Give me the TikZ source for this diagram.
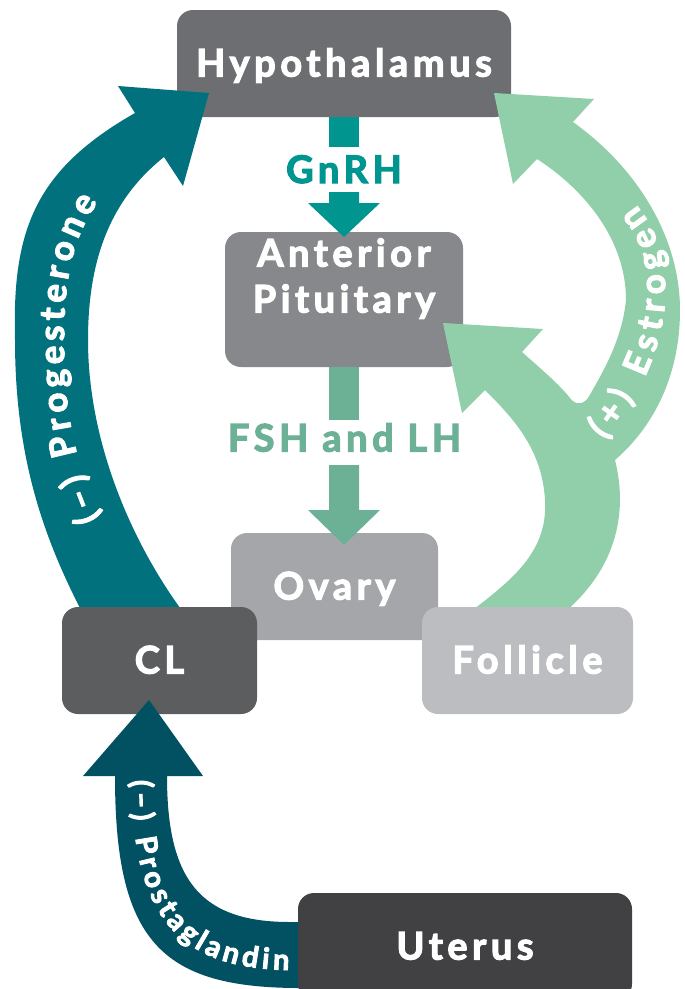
\documentclass[tikz,border=0pt]{standalone}
\usepackage{fontspec}
\newfontfamily\lbl{Lato}[LetterSpace=12, BoldFeatures={FakeBold=3}]
\newfontfamily\clbl{Lato}[LetterSpace=5, BoldFeatures={FakeBold=3}]
\usetikzlibrary{decorations.text}
\definecolor{hypc}{HTML}{6D6E71}
\definecolor{apc}{HTML}{87888B}
\definecolor{ovc}{HTML}{A5A6A9}
\definecolor{clc}{HTML}{5C5D5F}
\definecolor{folc}{HTML}{BCBDC0}
\definecolor{utc}{HTML}{414042}
\definecolor{gnrhc}{HTML}{00968F}
\definecolor{fshc}{HTML}{6CB096}
\definecolor{progc}{HTML}{00717D}
\definecolor{estc}{HTML}{91CFAA}
\definecolor{prostc}{HTML}{025163}
\newcommand\curvefont{\clbl\bfseries\fontsize{35}{35}\selectfont\color{white}}
\newcommand\curvefontsm{\clbl\bfseries\fontsize{29}{29}\selectfont\color{white}}
\begin{document}
\begin{tikzpicture}[x=1pt,y=-1pt,
  box/.style={rounded corners=16pt, text=white, inner sep=0pt, align=center,
    font=\lbl\bfseries\fontsize{38}{46}\selectfont, text height=26pt, text depth=0pt},
  lbltxt/.style={inner sep=0pt, font=\lbl\bfseries\fontsize{38}{46}\selectfont,
    text height=26pt, text depth=0pt},
  curvetext/.style={decorate, decoration={text along path, text align=fit to path,
    text={|\curvefont|#1}}},
  curvetextsm/.style={decorate, decoration={text along path, text align=fit to path,
    text={|\curvefontsm|#1}}}]
\useasboundingbox (0,0) rectangle (685,989);

% upper boxes
\node[box, fill=hypc, minimum width=334pt, minimum height=107pt] (hyp) at (344,63.5) {Hypothalamus};
\node[box, fill=apc, minimum width=238pt, minimum height=135pt] (ap) at (344,299.5) {Anterior\\Pituitary};
\node[box, fill=ovc, minimum width=207pt, minimum height=107pt] (ov) at (334.5,586.5) {Ovary};

% GnRH
\node[lbltxt, text=gnrhc] (gnrh) at (344,170) {GnRH};
\fill[gnrhc] (329,117) rectangle (359,147);
\fill[gnrhc] (329,192) -- (359,192) -- (359,203) -- (380,203) -- (344,237) -- (308,203) -- (329,203) -- cycle;

% FSH and LH
\node[lbltxt, text=fshc] (fsh) at (344.5,438.5) {FSH and LH};
\fill[fshc] (329,367) rectangle (359,420);
\fill[fshc] (329,465) -- (359,465) -- (359,510) -- (380,510) -- (344,545) -- (308,510) -- (329,510) -- cycle;

% Progesterone arrow
\fill[progc] (82,612) .. controls (45,540) and (15,460) .. (15,340)
  .. controls (12,230) and (35,170) .. (135,113)
  -- (118,86) -- (209,93) -- (183,186) -- (164,157)
  .. controls (110,200) and (88,260) .. (88,340)
  .. controls (88,440) and (130,540) .. (183,612) -- cycle;
\path[curvetext={(–) Progesterone}] (100,518) .. controls (70,450) and (64,400) .. (64,340)
  .. controls (64,275) and (74,235) .. (98,202);

% Estrogen arrow
\fill[estc] (470,612) .. controls (515,578) and (548,550) .. (545,500)
  .. controls (542,450) and (515,420) .. (485,390)
  -- (462,413) -- (443,323) -- (543,329) -- (522,352)
  .. controls (540,368) and (560,385) .. (570,398)
  .. controls (575,405) and (583,405) .. (588,398)
  .. controls (603,372) and (622,340) .. (626,300)
  .. controls (626,240) and (585,190) .. (537,159)
  -- (513,184) -- (494,93) -- (594,99) -- (573,122)
  .. controls (640,170) and (680,240) .. (680,310)
  .. controls (680,380) and (650,430) .. (615,460)
  .. controls (625,500) and (625,560) .. (565,612) -- cycle;
\path[curvetext={(+) Estrogen}] (604,440) .. controls (626,416) and (662,360) .. (665,300)
  .. controls (667,255) and (655,228) .. (636,205);

% lower boxes
\node[box, fill=clc, minimum width=195pt, minimum height=107pt] (cl) at (159.5,660.5) {CL};
\node[box, fill=folc, minimum width=211pt, minimum height=107pt] (fol) at (527.5,660.5) {Follicle};

% Prostaglandin arrow
\fill[prostc] (115,776) -- (83,776) -- (149,700) -- (203,776) -- (167,776)
  .. controls (167,880) and (200,922) .. (290,922) -- (320,922) -- (320,988) -- (300,988)
  .. controls (160,988) and (115,940) .. (115,776) -- cycle;
\path[curvetextsm={(–) Prostaglandin}] (132,780) .. controls (132,925) and (185,968) .. (289,970);

\node[box, fill=utc, minimum width=334pt, minimum height=107pt] (ut) at (465,946.5) {Uterus};
\end{tikzpicture}
\end{document}
